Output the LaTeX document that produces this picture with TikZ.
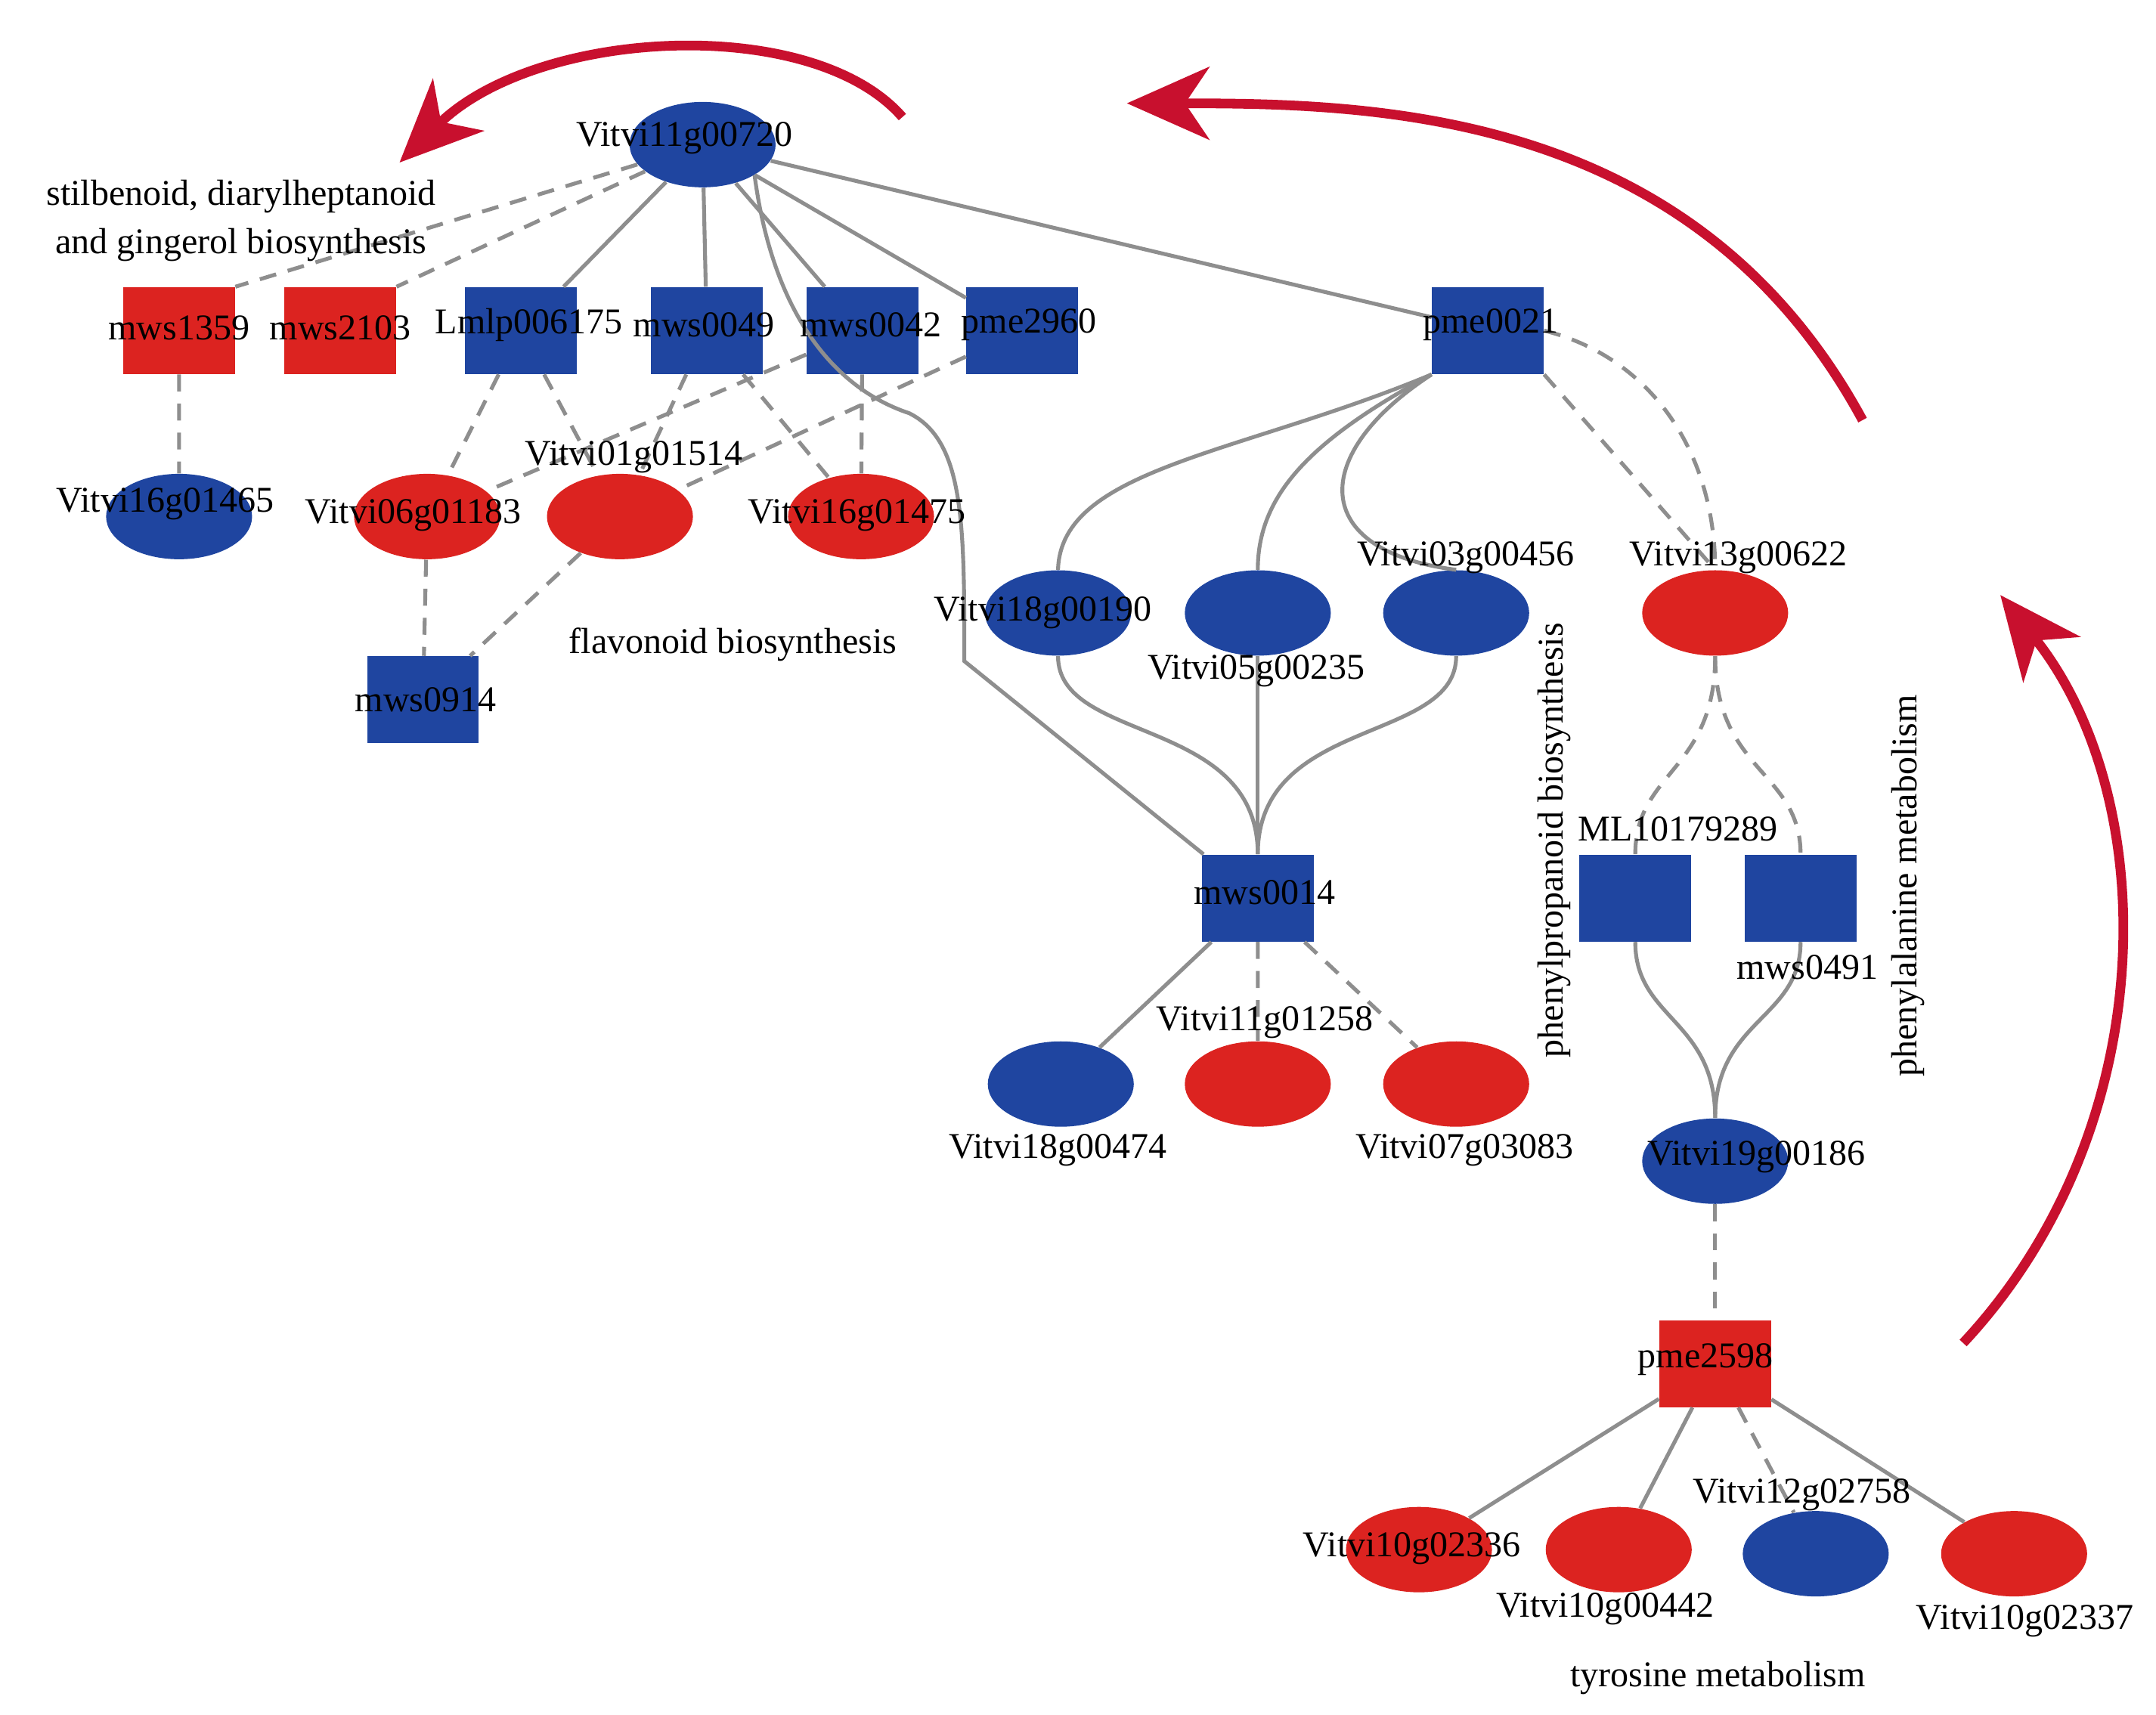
\documentclass[tikz,border=0pt]{standalone}
\usepackage{fontspec}
\setmainfont{Liberation Serif}
\usetikzlibrary{arrows.meta,shapes.geometric}
\definecolor{nb}{HTML}{1F45A0}
\definecolor{nr}{HTML}{DC2320}
\definecolor{eg}{HTML}{8E8E8E}
\definecolor{ar}{HTML}{C8102E}
\begin{document}
\begin{tikzpicture}[x=0.02cm,y=-0.02cm,
 el/.style={ellipse,draw=none,minimum width=2.12cm,minimum height=1.24cm,inner sep=0},
 sq/.style={rectangle,draw=none,minimum width=1.62cm,minimum height=1.26cm,inner sep=0},
 B/.style={fill=nb},R/.style={fill=nr},
 lb/.style={font=\fontsize{15}{17}\selectfont,inner sep=0},
 so/.style={draw=eg,line width=1.6pt},
 da/.style={draw=eg,line width=1.6pt,dash pattern=on 7pt off 5pt},
 big/.style={draw=ar,line width=4pt,-{Stealth[length=34pt,width=30pt,inset=10pt]}}]
\useasboundingbox (0,0) rectangle (1565,1245);
% nodes
\node[el,B] (a) at (510,105) {};
\node[sq,R] (m1359) at (130,240) {};
\node[sq,R] (m2103) at (247,240) {};
\node[sq,B] (lm) at (378,240) {};
\node[sq,B] (m49) at (513,240) {};
\node[sq,B] (m42) at (626,240) {};
\node[sq,B] (p2960) at (742,240) {};
\node[sq,B] (p21) at (1080,240) {};
\node[el,B] (e1465) at (130,375) {};
\node[el,R] (e1183) at (310,375) {};
\node[el,R] (e1514) at (450,375) {};
\node[el,R] (e1475) at (625,375) {};
\node[sq,B] (m914) at (307,508) {};
\node[el,B] (e190) at (768,445) {};
\node[el,B] (e235) at (913,445) {};
\node[el,B] (e456) at (1057,445) {};
\node[el,R] (e622) at (1245,445) {};
\node[sq,B] (m14) at (913,652) {};
\node[sq,B] (ml) at (1187,652) {};
\node[sq,B] (m491) at (1307,652) {};
\node[el,B] (e474) at (770,787) {};
\node[el,R] (e1258) at (913,787) {};
\node[el,R] (e3083) at (1057,787) {};
\node[el,B] (e186) at (1245,843) {};
\node[sq,R] (p2598) at (1245,990) {};
\node[el,R] (e2336) at (1030,1125) {};
\node[el,R] (e442) at (1175,1125) {};
\node[el,B] (e2758) at (1318,1128) {};
\node[el,R] (e2337) at (1462,1128) {};
% edges
\path[so] (a)--(lm) (a)--(m49) (a)--(m42) (a)--(p2960) (a)--(p21);
\path[so] (a.south east) .. controls (560,220) and (600,280) .. (660,300) .. controls (700,320) and (700,380) .. (700,480) -- (m14);
\path[da] (a)--(m1359.north east) (a)--(m2103.north east);
\path[da] (m1359)--(e1465) (lm)--(e1183) (lm)--(e1514) (m49)--(e1514) (m49)--(e1475)
 (m42)--(e1475) (m42)--(e1183) (p2960)--(e1514) (e1183)--(m914) (e1514)--(m914);
\path[so] (p21.south west) .. controls (900,330) and (770,340) .. (e190.north);
\path[so] (p21.south west) .. controls (950,320) and (913,360) .. (e235.north);
\path[so] (p21.south west) .. controls (950,330) and (950,400) .. (e456.north);
\path[da] (p21.south east)--(e622.north);
\path[da] (p21.east) .. controls (1200,260) and (1245,330) .. (e622.north);
\path[so] (e190.south) .. controls (768,540) and (913,520) .. (m14.north);
\path[so] (e235.south)--(m14.north);
\path[so] (e456.south) .. controls (1057,540) and (913,520) .. (m14.north);
\path[so] (m14)--(e474); \path[da] (m14)--(e1258) (m14)--(e3083);
\path[da] (e622.south) .. controls (1245,560) and (1187,560) .. (ml.north);
\path[da] (e622.south) .. controls (1245,560) and (1307,560) .. (m491.north);
\path[so] (ml.south) .. controls (1187,740) and (1245,740) .. (e186.north);
\path[so] (m491.south) .. controls (1307,740) and (1245,740) .. (e186.north);
\path[da] (e186)--(p2598);
\path[so] (p2598)--(e2336) (p2598)--(e442) (p2598)--(e2337); \path[da] (p2598)--(e2758);
% labels
\node[lb] (t1) at (497,100) {Vitvi11g00720};
\node[lb] (t2) at (130,238) {mws1359};
\node[lb] (t3) at (247,238) {mws2103};
\node[lb] (t4) at (384,236) {Lmlp006175};
\node[lb] (t5) at (511,236) {mws0049};
\node[lb] (t6) at (632,236) {mws0042};
\node[lb] (t7) at (747,236) {pme2960};
\node[lb] (t8) at (1082,236) {pme0021};
\node[lb] (t9) at (120,366) {Vitvi16g01465};
\node[lb] (t10) at (300,374) {Vitvi06g01183};
\node[lb] (t11) at (460,332) {Vitvi01g01514};
\node[lb] (t12) at (622,374) {Vitvi16g01475};
\node[lb] (t13) at (309,508) {mws0914};
\node[lb] (t14) at (757,445) {Vitvi18g00190};
\node[lb] (t15) at (912,487) {Vitvi05g00235};
\node[lb] (t16) at (1064,405) {Vitvi03g00456};
\node[lb] (t17) at (1262,405) {Vitvi13g00622};
\node[lb] (t18) at (918,648) {mws0014};
\node[lb] (t19) at (1218,602) {ML10179289};
\node[lb] (t20) at (1312,702) {mws0491};
\node[lb] (t21) at (768,835) {Vitvi18g00474};
\node[lb] (t22) at (918,742) {Vitvi11g01258};
\node[lb] (t23) at (1063,835) {Vitvi07g03083};
\node[lb] (t24) at (1275,840) {Vitvi19g00186};
\node[lb] (t25) at (1238,987) {pme2598};
\node[lb] (t26) at (1025,1124) {Vitvi10g02336};
\node[lb] (t27) at (1165,1168) {Vitvi10g00442};
\node[lb] (t28) at (1308,1085) {Vitvi12g02758};
\node[lb] (t29) at (1470,1177) {Vitvi10g02337};
\node[lb,align=center] (c1) at (175,160) {stilbenoid, diarylheptanoid\\[3pt]and gingerol biosynthesis};
\node[lb] (c2) at (532,468) {flavonoid biosynthesis};
\node[lb,rotate=90] (c3) at (1128,610) {phenylpropanoid biosynthesis};
\node[lb,rotate=90] (c4) at (1385,643) {phenylalanine metabolism};
\node[lb] (c5) at (1247,1218) {tyrosine metabolism};
% arrows
\coordinate (s1) at (655,85); \coordinate (e1) at (290,118);
\coordinate (s2) at (1352,305); \coordinate (e2) at (818,75);
\coordinate (s3) at (1425,975); \coordinate (e3) at (1452,432);
\path[big] (s1) .. controls (590,10) and (390,20) .. (e1);
\path[big] (s2) .. controls (1230,80) and (1000,75) .. (e2);
\path[big] (s3) .. controls (1570,820) and (1570,580) .. (e3);
\end{tikzpicture}
\end{document}
